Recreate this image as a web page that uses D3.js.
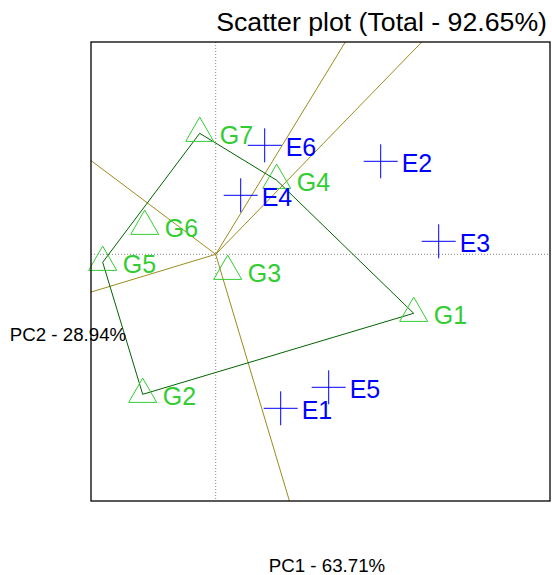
<!DOCTYPE html>
<html>
<head>
<meta charset="utf-8">
<script src="https://cdn.jsdelivr.net/npm/d3@7"></script>
<style>
  body { margin: 0; background: #fff; }
  text { font-family: "Liberation Sans", Arial, sans-serif; }
</style>
</head>
<body>
<svg id="chart" width="552" height="575"></svg>
<script>
// genotype and environment scores (PC1, PC2)
var genotypes = ["G1", "G2", "G3", "G4", "G5", "G6", "G7"];
var genoPC1 = [1.98, -0.73, 0.12, 0.61, -1.13, -0.71, -0.16];
var genoPC2 = [-0.59, -1.40, -0.17, 0.74, -0.08, 0.28, 1.21];

var environments = ["E1", "E2", "E3", "E4", "E5", "E6"];
var envPC1 = [0.65, 1.65, 2.23, 0.25, 1.13, 0.49];
var envPC2 = [-1.54, 0.93, 0.13, 0.59, -1.33, 1.09];

var xLim = [-1.247, 3.343],
    yLim = [-2.467, 2.123];

var title = "Scatter plot (Total - 92.65%)",
    xLabel = "PC1 - 63.71%",
    yLabel = "PC2 - 28.94%";

var svg = d3.select("#chart"),
    box = {left: 91, right: 550, top: 42, bottom: 501};

var x = d3.scaleLinear().domain(xLim).range([box.left, box.right]),
    y = d3.scaleLinear().domain(yLim).range([box.bottom, box.top]);

var geno = genotypes.map(function(g, i) { return {id: g, pc1: genoPC1[i], pc2: genoPC2[i]}; });
var env = environments.map(function(e, i) { return {id: e, pc1: envPC1[i], pc2: envPC2[i]}; });

// dotted axes through origin
svg.append("line")
    .attr("x1", x(0)).attr("x2", x(0))
    .attr("y1", box.top).attr("y2", box.bottom)
    .attr("stroke", "#888").attr("stroke-dasharray", "1,2");
svg.append("line")
    .attr("x1", box.left).attr("x2", box.right)
    .attr("y1", y(0)).attr("y2", y(0))
    .attr("stroke", "#888").attr("stroke-dasharray", "1,2");

// which-won-where polygon
var hull = d3.polygonHull(geno.map(function(d) { return [d.pc1, d.pc2]; }));

// rays from origin perpendicular to each polygon side
var rays = [];
for (var i = 0; i < hull.length; i++) {
  var a = hull[i], b = hull[(i + 1) % hull.length];
  var dx = b[0] - a[0], dy = b[1] - a[1];
  var t = -(a[0] * dx + a[1] * dy) / (dx * dx + dy * dy);
  var px = a[0] + t * dx, py = a[1] + t * dy;
  var sx = px > 0 ? xLim[1] / px : xLim[0] / px,
      sy = py > 0 ? yLim[1] / py : yLim[0] / py,
      s = Math.min(sx, sy);
  rays.push([px * s, py * s]);
}

svg.selectAll(".ray")
  .data(rays)
  .enter().append("line")
    .attr("class", "ray")
    .attr("x1", x(0)).attr("y1", y(0))
    .attr("x2", function(d) { return x(d[0]); })
    .attr("y2", function(d) { return y(d[1]); })
    .attr("stroke", "#9a8c1c")
    .attr("stroke-width", 1);

svg.append("path")
    .attr("d", "M" + hull.map(function(d) { return x(d[0]) + "," + y(d[1]); }).join("L") + "Z")
    .attr("fill", "none")
    .attr("stroke", "#006400")
    .attr("stroke-width", 1);

// genotypes
var triangle = d3.symbol().type(d3.symbolTriangle).size(341);
svg.selectAll(".geno")
  .data(geno)
  .enter().append("path")
    .attr("class", "geno")
    .attr("transform", function(d) { return "translate(" + x(d.pc1) + "," + y(d.pc2) + ")"; })
    .attr("d", triangle)
    .attr("fill", "none")
    .attr("stroke", "#32cd32")
    .attr("stroke-width", 1);

svg.selectAll(".geno-label")
  .data(geno)
  .enter().append("text")
    .attr("class", "geno-label")
    .attr("x", function(d) { return x(d.pc1) + 20; })
    .attr("y", function(d) { return y(d.pc2) + 11; })
    .attr("fill", "#32cd32")
    .style("font-size", "25px")
    .text(function(d) { return d.id; });

// environments
svg.selectAll(".env")
  .data(env)
  .enter().append("path")
    .attr("class", "env")
    .attr("transform", function(d) { return "translate(" + x(d.pc1) + "," + y(d.pc2) + ")"; })
    .attr("d", "M-17,0H17M0,-17V17")
    .attr("stroke", "#0000ff")
    .attr("stroke-width", 1);

svg.selectAll(".env-label")
  .data(env)
  .enter().append("text")
    .attr("class", "env-label")
    .attr("x", function(d) { return x(d.pc1) + 21; })
    .attr("y", function(d) { return y(d.pc2) + 11; })
    .attr("fill", "#0000ff")
    .style("font-size", "25px")
    .text(function(d) { return d.id; });

// frame
svg.append("rect")
    .attr("x", box.left).attr("y", box.top)
    .attr("width", box.right - box.left).attr("height", box.bottom - box.top)
    .attr("fill", "none")
    .attr("stroke", "#000")
    .attr("stroke-width", 1.3);

svg.append("text")
    .attr("x", 547).attr("y", 31)
    .attr("text-anchor", "end")
    .style("font-size", "26.7px")
    .text(title);

svg.append("text")
    .attr("x", 327).attr("y", 572)
    .attr("text-anchor", "middle")
    .style("font-size", "18.7px")
    .text(xLabel);

svg.append("text")
    .attr("x", 68).attr("y", 341)
    .attr("text-anchor", "middle")
    .style("font-size", "18.7px")
    .text(yLabel);
</script>
</body>
</html>
